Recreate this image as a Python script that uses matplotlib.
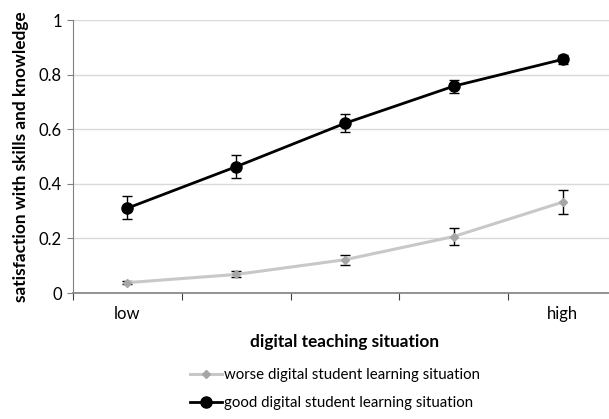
import matplotlib.pyplot as plt
import numpy as np

plt.rcParams['font.family'] = ['Lato', 'DejaVu Sans']

levels = [1, 2, 3, 4, 5]
xlabels = ['low', '', '', '', 'high']

good = [0.311, 0.463, 0.622, 0.758, 0.856]
good_lo = [0.271, 0.423, 0.589, 0.734, 0.839]
good_hi = [0.354, 0.504, 0.655, 0.780, 0.872]

worse = [0.038, 0.068, 0.122, 0.207, 0.333]
worse_lo = [0.032, 0.057, 0.101, 0.177, 0.289]
worse_hi = [0.044, 0.079, 0.140, 0.237, 0.376]

fig = plt.figure(figsize=(6.09, 4.19), dpi=100)
ax = fig.add_axes([0.12, 0.3007, 1.013 - 0.12, 0.952 - 0.3007])

x = np.array(levels) - 0.5
g = np.array(good)
w = np.array(worse)

ax.errorbar(x, w, yerr=[w - np.array(worse_lo), np.array(worse_hi) - w],
            fmt='none', ecolor='black', elinewidth=1, capsize=3.5, capthick=1, zorder=2)
ax.errorbar(x, g, yerr=[g - np.array(good_lo), np.array(good_hi) - g],
            fmt='none', ecolor='black', elinewidth=1, capsize=3.5, capthick=1, zorder=2)
l1, = ax.plot(x, w, color='#c8c8c8', lw=2.2, marker='D', ms=4,
              mfc='#a6a6a6', mec='#a6a6a6', zorder=3,
              label='worse digital student learning situation')
l2, = ax.plot(x, g, color='black', lw=2, marker='o', ms=8, zorder=4,
              label='good digital student learning situation')

ax.set_xlim(0, 5)
ax.set_ylim(0, 1)
ax.set_yticks([0, 0.2, 0.4, 0.6, 0.8, 1])
ax.set_yticklabels(['0', '0.2', '0.4', '0.6', '0.8', '1'])
ax.set_xticks([0, 1, 2, 3, 4, 5])
ax.set_xticklabels([])
ax.set_xticks(x, minor=True)
ax.set_xticklabels(xlabels, minor=True)
ax.tick_params(axis='x', which='minor', length=0, pad=9, labelsize=12)
ax.tick_params(axis='x', which='major', length=5, color='#404040')
ax.tick_params(axis='y', length=4, color='#808080', labelsize=12, pad=4)

ax.yaxis.grid(True, color='#d9d9d9', lw=1)
ax.set_axisbelow(True)
for s in ['top', 'right']:
    ax.spines[s].set_visible(False)
ax.spines['left'].set_color('#808080')
ax.spines['bottom'].set_color('#808080')
ax.spines['bottom'].set_linewidth(1.2)

ax.set_xlabel('digital teaching situation', fontsize=12.4, fontweight='bold', labelpad=9)
ax.set_ylabel('satisfaction with skills and knowledge', fontsize=12.4, fontweight='bold', labelpad=7)

fig.legend(handles=[l1, l2], loc='upper left', bbox_to_anchor=(190 / 609, 1 - 368 / 419),
           frameon=False, fontsize=10.8, handlelength=2.1, handletextpad=0.15,
           labelspacing=0.95, borderaxespad=0, borderpad=0)

fig.savefig('out.png', dpi=100)
